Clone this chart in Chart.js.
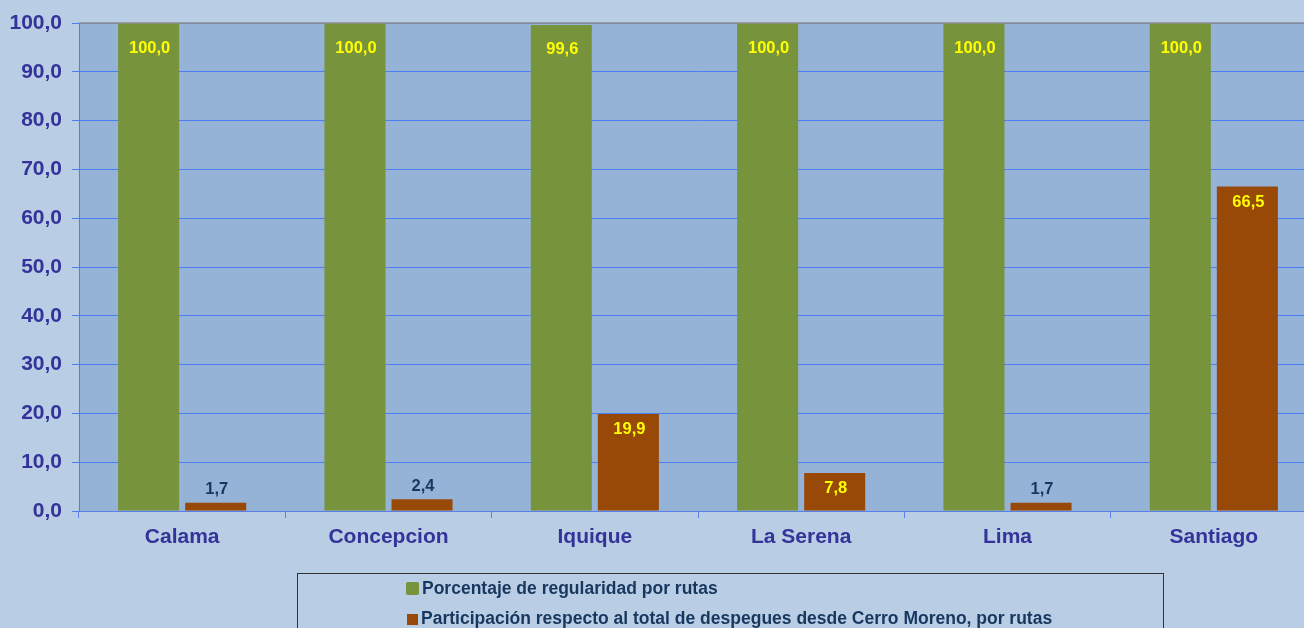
<!DOCTYPE html>
<html>
<head>
<meta charset="utf-8">
<script src="https://cdn.jsdelivr.net/npm/chart.js@4.4.0/dist/chart.umd.min.js"></script>
<style>
  html, body { margin:0; padding:0; width:1304px; height:628px; overflow:hidden; background:#b9cde5; font-family:Arial, "Liberation Sans", sans-serif; }
  #wrap { position:absolute; left:0; top:0; width:1318px; height:628px; }
  #legend { position:absolute; left:297px; top:573px; width:867px; height:70px; border:1px solid #333; box-sizing:border-box; }
  .lg { position:absolute; left:108px; font-weight:bold; font-size:17.5px; line-height:20px; color:#17375e; white-space:nowrap; }
  .lg i { display:inline-block; width:13px; height:13px; margin-right:3px; vertical-align:-1px; border-radius:2px; }
</style>
</head>
<body>
<div id="wrap"><canvas id="c" width="1318" height="628"></canvas></div>
<div id="legend">
  <div class="lg" style="top:4px;"><i style="background:#77933c;"></i>Porcentaje de regularidad por rutas</div>
  <div class="lg" style="top:34px;"><i style="background:#984807;width:11px;height:11px;border-radius:0;margin-left:1px;"></i>Participación respecto al total de despegues desde Cerro Moreno, por rutas</div>
</div>
<script>
// rutas desde Cerro Moreno
const categories = ['Calama', 'Concepcion', 'Iquique', 'La Serena', 'Lima', 'Santiago'];
const regularidad = [100.0, 100.0, 99.6, 100.0, 100.0, 100.0];
const participacion = [1.7, 2.4, 19.9, 7.8, 1.7, 66.5];
const yTicks = [0, 10, 20, 30, 40, 50, 60, 70, 80, 90, 100];

const fmt = v => v.toFixed(1).replace('.', ',');

/* fondo del area de graficos + borde superior gris */
const plotBg = {
  id: 'plotBg',
  beforeDraw(chart) {
    const { ctx, chartArea: a } = chart;
    ctx.save();
    ctx.fillStyle = '#95b3d7';
    ctx.fillRect(a.left, a.top, a.right - a.left, a.bottom - a.top);
    ctx.restore();
  },
  afterDraw(chart) {
    const { ctx, chartArea: a } = chart;
    ctx.save();
    ctx.strokeStyle = '#8c8c8c';
    ctx.lineWidth = 1.5;
    ctx.beginPath();
    ctx.moveTo(a.left, a.top);
    ctx.lineTo(a.right, a.top);
    ctx.stroke();
    ctx.restore();
  }
};

/* etiquetas de valores */
const valueLabels = {
  id: 'valueLabels',
  afterDatasetsDraw(chart) {
    const { ctx } = chart;
    ctx.save();
    ctx.font = 'bold 16.5px Arial, "Liberation Sans", sans-serif';
    ctx.textAlign = 'center';
    ctx.textBaseline = 'middle';
    chart.data.datasets.forEach((ds, di) => {
      chart.getDatasetMeta(di).data.forEach((bar, i) => {
        const v = ds.data[i];
        let y, color;
        if (di === 0) { y = bar.y + 25; color = '#ffff00'; }
        else if (v > 5) { y = bar.y + 16; color = '#ffff00'; }
        else { y = bar.y - 13; color = '#17375e'; }
        ctx.fillStyle = color;
        ctx.fillText(fmt(v), bar.x + 1, y);
      });
    });
    ctx.restore();
  }
};

new Chart(document.getElementById('c').getContext('2d'), {
  type: 'bar',
  data: {
    labels: categories,
    datasets: [
      { label: 'Porcentaje de regularidad por rutas', data: regularidad, backgroundColor: '#77933c', barPercentage: 0.91, categoryPercentage: 0.65 },
      { label: 'Participación respecto al total de despegues desde Cerro Moreno, por rutas', data: participacion, backgroundColor: '#984807', barPercentage: 0.91, categoryPercentage: 0.65 },
    ],
  },
  options: {
    responsive: false,
    animation: false,
    layout: { padding: { left: 0, top: 23, right: 1, bottom: 0 } },
    plugins: { legend: { display: false }, tooltip: { enabled: false } },
    scales: {
      x: {
        grid: { drawOnChartArea: false, drawTicks: true, tickLength: 7, color: '#5b7fe8', offset: true },
        border: { color: '#5b7fe8' },
        ticks: { color: '#333399', font: { size: 21, weight: 'bold', family: 'Arial' }, padding: 7 },
        afterFit(s) { s.height = 117; },
      },
      y: {
        min: 0, max: 100,
        afterBuildTicks(s) { s.ticks = yTicks.map(v => ({ value: v })); },
        grid: { color: '#4a7ef2', lineWidth: 1, tickLength: 7 },
        border: { color: '#4a7ef2' },
        ticks: { color: '#333399', font: { size: 21, weight: 'bold', family: 'Arial' }, padding: 10, callback: v => fmt(v) },
        afterFit(s) { s.width = 79; },
      },
    },
  },
  plugins: [plotBg, valueLabels],
});
</script>
</body>
</html>
